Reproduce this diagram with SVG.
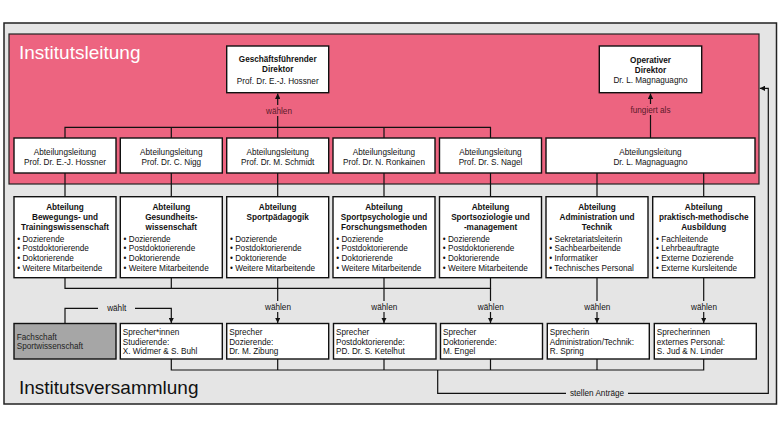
<svg xmlns="http://www.w3.org/2000/svg" width="784" height="441" viewBox="0 0 784 441">
<defs>
<style>
text{font-family:"Liberation Sans",Arial,sans-serif;font-size:8.2px;fill:#111}
.b{font-weight:bold}
.c{text-anchor:middle}
.box{fill:#fff;stroke:#111;stroke-width:1.4}
.ln{fill:none;stroke:#111;stroke-width:1.2}
.lp{fill:#5a1a2a}
.big{font-size:19px}
</style>
<marker id="ar" viewBox="0 0 8 8" refX="8" refY="4" markerWidth="4.5" markerHeight="4.5" orient="auto"><path d="M0,0L8,4L0,8z" fill="#111"/></marker>
</defs>
<rect width="784" height="441" fill="#fff"/>
<rect x="4" y="23" width="772.5" height="381" fill="#e5e5e5" stroke="#222" stroke-width="1.5"/>
<rect x="9" y="34" width="750" height="150" fill="#ed6480" stroke="#222" stroke-width="1.2"/>
<text x="19" y="59" class="big" style="fill:#fff">Institutsleitung</text>
<text x="19" y="394" class="big">Institutsversammlung</text>

<g id="connectors">
<path class="ln" d="M65,138V127.3H490.5V138M171.3,127.3V138M384,127.3V138"/>
<path class="ln" d="M277.7,138V93.5" marker-end="url(#ar)"/>
<path class="ln" d="M650.5,138V93.5" marker-end="url(#ar)"/>
<path class="ln" d="M65,173V196.7M171.3,173V196.7M277.7,173V196.7M384,173V196.7M490.5,173V196.7M597,173V196.7M703.7,173V196.7"/>
<path class="ln" d="M65,277.7V288.3H490.5V277.7M171.3,277.7V288.3M277.7,277.7V288.3M384,277.7V288.3"/>
<path class="ln" d="M277.7,288.3V323" marker-end="url(#ar)"/>
<path class="ln" d="M384,288.3V323" marker-end="url(#ar)"/>
<path class="ln" d="M490.5,288.3V323" marker-end="url(#ar)"/>
<path class="ln" d="M597,277.7V323" marker-end="url(#ar)"/>
<path class="ln" d="M703.7,277.7V323" marker-end="url(#ar)"/>
<path class="ln" d="M65,323.5V308.3H171.3V323" marker-end="url(#ar)"/>
<path class="ln" d="M171.3,359V370H703.7V359M277.7,359V370M384,359V370M490.5,359V370M597,359V370"/>
<path class="ln" d="M437.7,370V393.3H768.3V88.3H759.8" marker-end="url(#ar)"/>
<rect x="261" y="105" width="34" height="11" fill="#ed6480"/>
<text x="279" y="113.5" class="c lp">wählen</text>
<rect x="627" y="104" width="47" height="11" fill="#ed6480"/>
<text x="650.5" y="112.5" class="c lp">fungiert als</text>
<rect x="98" y="303" width="37" height="11" fill="#e5e5e5"/>
<text x="116.7" y="311" class="c">wählt</text>
<rect x="261" y="301" width="34" height="11" fill="#e5e5e5"/>
<text x="278" y="309.5" class="c">wählen</text>
<rect x="367" y="301" width="34" height="11" fill="#e5e5e5"/>
<text x="384.3" y="309.5" class="c">wählen</text>
<rect x="474" y="301" width="34" height="11" fill="#e5e5e5"/>
<text x="490.8" y="309.5" class="c">wählen</text>
<rect x="580" y="301" width="34" height="11" fill="#e5e5e5"/>
<text x="597.3" y="309.5" class="c">wählen</text>
<rect x="687" y="301" width="34" height="11" fill="#e5e5e5"/>
<text x="704" y="309.5" class="c">wählen</text>
<rect x="566" y="388" width="62" height="11" fill="#e5e5e5"/>
<text x="597" y="396.3" class="c">stellen Anträge</text>
</g>

<g id="gf-direktor">
<rect class="box" x="226.7" y="46" width="102" height="46.7"/>
<text x="277.7" y="62" class="b c">Geschäftsführender</text>
<text x="277.7" y="71.7" class="b c">Direktor</text>
<text x="277.7" y="84" class="c">Prof. Dr. E.-J. Hossner</text>
</g>
<g id="op-direktor">
<rect class="box" x="599.3" y="46" width="102.4" height="46.7"/>
<text x="650.5" y="63" class="b c">Operativer</text>
<text x="650.5" y="73" class="b c">Direktor</text>
<text x="650.5" y="83" class="c">Dr. L. Magnaguagno</text>
</g>

<g id="al1"><rect class="box" x="14" y="138" width="102" height="35"/><text x="65" y="155" class="c">Abteilungsleitung</text><text x="65" y="165" class="c">Prof. Dr. E.-J. Hossner</text></g>
<g id="al2"><rect class="box" x="120.3" y="138" width="102" height="35"/><text x="171.3" y="155" class="c">Abteilungsleitung</text><text x="171.3" y="165" class="c">Prof. Dr. C. Nigg</text></g>
<g id="al3"><rect class="box" x="226.7" y="138" width="102" height="35"/><text x="277.7" y="155" class="c">Abteilungsleitung</text><text x="277.7" y="165" class="c">Prof. Dr. M. Schmidt</text></g>
<g id="al4"><rect class="box" x="333" y="138" width="102" height="35"/><text x="384" y="155" class="c">Abteilungsleitung</text><text x="384" y="165" class="c">Prof. Dr. N. Ronkainen</text></g>
<g id="al5"><rect class="box" x="439.5" y="138" width="102" height="35"/><text x="490.5" y="155" class="c">Abteilungsleitung</text><text x="490.5" y="165" class="c">Prof. Dr. S. Nagel</text></g>
<g id="al6"><rect class="box" x="546" y="138" width="209" height="35"/><text x="650.5" y="155" class="c">Abteilungsleitung</text><text x="650.5" y="165" class="c">Dr. L. Magnaguagno</text></g>

<g id="ab1"><rect class="box" x="14" y="196.7" width="102" height="81"/>
<text x="65" y="210.3" class="b c">Abteilung</text><text x="65" y="220" class="b c">Bewegungs- und</text><text x="65" y="229.7" class="b c">Trainingswissenschaft</text>
<text x="17.3" y="241.7">• Dozierende</text><text x="17.3" y="251.3">• Postdoktorierende</text><text x="17.3" y="261">• Doktorierende</text><text x="17.3" y="270.7">• Weitere Mitarbeitende</text></g>
<g id="ab2"><rect class="box" x="120.3" y="196.7" width="102" height="81"/>
<text x="171.3" y="210.3" class="b c">Abteilung</text><text x="171.3" y="220" class="b c">Gesundheits-</text><text x="171.3" y="229.7" class="b c">wissenschaft</text>
<text x="123.6" y="241.7">• Dozierende</text><text x="123.6" y="251.3">• Postdoktorierende</text><text x="123.6" y="261">• Doktorierende</text><text x="123.6" y="270.7">• Weitere Mitarbeitende</text></g>
<g id="ab3"><rect class="box" x="226.7" y="196.7" width="102" height="81"/>
<text x="277.7" y="210.3" class="b c">Abteilung</text><text x="277.7" y="220" class="b c">Sportpädagogik</text>
<text x="230" y="241.7">• Dozierende</text><text x="230" y="251.3">• Postdoktorierende</text><text x="230" y="261">• Doktorierende</text><text x="230" y="270.7">• Weitere Mitarbeitende</text></g>
<g id="ab4"><rect class="box" x="333" y="196.7" width="102" height="81"/>
<text x="384" y="210.3" class="b c">Abteilung</text><text x="384" y="220" class="b c">Sportpsychologie und</text><text x="384" y="229.7" class="b c">Forschungsmethoden</text>
<text x="336.3" y="241.7">• Dozierende</text><text x="336.3" y="251.3">• Postdoktorierende</text><text x="336.3" y="261">• Doktorierende</text><text x="336.3" y="270.7">• Weitere Mitarbeitende</text></g>
<g id="ab5"><rect class="box" x="439.5" y="196.7" width="102" height="81"/>
<text x="490.5" y="210.3" class="b c">Abteilung</text><text x="490.5" y="220" class="b c">Sportsoziologie und</text><text x="490.5" y="229.7" class="b c">-management</text>
<text x="442.8" y="241.7">• Dozierende</text><text x="442.8" y="251.3">• Postdoktorierende</text><text x="442.8" y="261">• Doktorierende</text><text x="442.8" y="270.7">• Weitere Mitarbeitende</text></g>
<g id="ab6"><rect class="box" x="546" y="196.7" width="102" height="81"/>
<text x="597" y="210.3" class="b c">Abteilung</text><text x="597" y="220" class="b c">Administration und</text><text x="597" y="229.7" class="b c">Technik</text>
<text x="549.3" y="241.7">• Sekretariatsleiterin</text><text x="549.3" y="251.3">• Sachbearbeitende</text><text x="549.3" y="261">• Informatiker</text><text x="549.3" y="270.7">• Technisches Personal</text></g>
<g id="ab7"><rect class="box" x="652.7" y="196.7" width="102" height="81"/>
<text x="703.7" y="210.3" class="b c">Abteilung</text><text x="703.7" y="220" class="b c">praktisch-methodische</text><text x="703.7" y="229.7" class="b c">Ausbildung</text>
<text x="656" y="241.7">• Fachleitende</text><text x="656" y="251.3">• Lehrbeauftragte</text><text x="656" y="261">• Externe Dozierende</text><text x="656" y="270.7">• Externe Kursleitende</text></g>

<g id="fachschaft"><rect x="14" y="323.5" width="102" height="35.5" fill="#a6a6a6" stroke="#111" stroke-width="1.4"/>
<text x="16.7" y="339.7" style="fill:#222">Fachschaft</text><text x="16.7" y="349" style="fill:#222">Sportwissenschaft</text></g>
<g id="sp1"><rect class="box" x="120.3" y="323.5" width="102" height="35.5"/><text x="122.8" y="335.3">Sprecher*innen</text><text x="122.8" y="344.5">Studierende:</text><text x="122.8" y="353.7">X. Widmer &amp; S. Buhl</text></g>
<g id="sp2"><rect class="box" x="226.7" y="323.5" width="102" height="35.5"/><text x="229.2" y="335.3">Sprecher</text><text x="229.2" y="344.5">Dozierende:</text><text x="229.2" y="353.7">Dr. M. Zibung</text></g>
<g id="sp3"><rect class="box" x="333.5" y="323.5" width="102.5" height="35.5"/><text x="336" y="335.3">Sprecher</text><text x="336" y="344.5">Postdoktorierende:</text><text x="336" y="353.7">PD. Dr. S. Ketelhut</text></g>
<g id="sp4"><rect class="box" x="440.5" y="323.5" width="102" height="35.5"/><text x="443" y="335.3">Sprecher</text><text x="443" y="344.5">Doktorierende:</text><text x="443" y="353.7">M. Engel</text></g>
<g id="sp5"><rect class="box" x="547.3" y="323.5" width="102" height="35.5"/><text x="549.8" y="335.3">Sprecherin</text><text x="549.8" y="344.5">Administration/Technik:</text><text x="549.8" y="353.7">R. Spring</text></g>
<g id="sp6"><rect class="box" x="654.3" y="323.5" width="102" height="35.5"/><text x="656.8" y="335.3">Sprecherinnen</text><text x="656.8" y="344.5">externes Personal:</text><text x="656.8" y="353.7">S. Jud &amp; N. Linder</text></g>
</svg>
